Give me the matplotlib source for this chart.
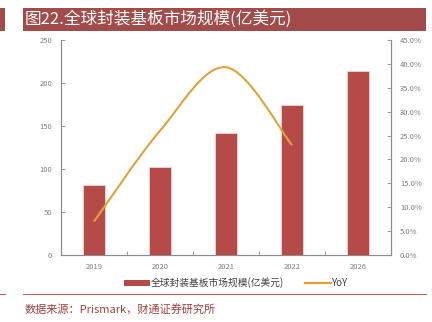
import matplotlib
matplotlib.use("Agg")
import matplotlib.pyplot as plt
from matplotlib.path import Path
from matplotlib.patches import PathPatch, Rectangle
from matplotlib.lines import Line2D
from matplotlib.ticker import FuncFormatter, FixedLocator
import numpy as np

plt.rcParams['font.family'] = ['Noto Sans CJK SC', 'DejaVu Sans']

years = ["2019", "2020", "2021", "2022", "2026"]
market_size = [81, 102, 142, 175, 214]
yoy_years = ["2019", "2020", "2021", "2022"]
yoy = [7.0, 26.0, 39.3, 23.0]

title = "图22.全球封装基板市场规模(亿美元)"
bar_label = "全球封装基板市场规模(亿美元)"
line_label = "YoY"
source = "数据来源：Prismark，财通证券研究所"

bar_color = "#B54A48"
line_color = "#E3A236"
red_dark = "#A34B4A"
axis_gray = "#8C8C8C"
tick_gray = "#7F7F7F"

fig = plt.figure(figsize=(4.32, 3.22), dpi=100)
ax = fig.add_axes([61/432, 1-255/322, 330/432, 215/322])
ax2 = ax.twinx()

x = np.arange(len(years))
ax.bar(x, market_size, width=0.32, color=bar_color, edgecolor="#F2D6D5", linewidth=0.6, zorder=2)
ax.set_xlim(-0.5, len(years) - 0.5)
ax.set_ylim(0, 250)
ax.set_yticks(np.arange(0, 251, 50))
ax.set_xticks(x)
ax.set_xticklabels(years)
ax.xaxis.set_minor_locator(FixedLocator(np.arange(0.5, len(years) - 0.5, 1)))
ax.tick_params(axis='x', which='major', length=0, labelsize=5.5, labelcolor=tick_gray, pad=6)
ax.tick_params(axis='x', which='minor', length=3, direction='in', color=axis_gray, width=0.6)
ax.tick_params(axis='y', length=3, direction='in', labelsize=5.5, labelcolor=tick_gray, color=axis_gray, width=0.6, pad=6.5)

ax2.set_ylim(0, 45)
ax2.set_yticks(np.arange(0, 46, 5))
ax2.yaxis.set_major_formatter(FuncFormatter(lambda v, p: f"{v:.1f}%"))
ax2.tick_params(axis='y', length=3, direction='in', labelsize=5.5, labelcolor=tick_gray, color=axis_gray, width=0.6, pad=6.5)

for a in (ax, ax2):
    a.spines['top'].set_visible(False)
    for s in ('left', 'right', 'bottom'):
        a.spines[s].set_color(axis_gray)
        a.spines[s].set_linewidth(0.8)
ax.set_zorder(ax2.get_zorder() + 1)
ax.patch.set_visible(False)

# smoothed YoY line (Excel-style Bezier through the data points), on the right-hand scale
xi = np.array([years.index(y) for y in yoy_years], dtype=float)
yi = np.array(yoy, dtype=float)
pts = np.column_stack([xi, yi])
verts = [tuple(pts[0])]
codes = [Path.MOVETO]
n = len(pts)
for i in range(n - 1):
    p0 = pts[i - 1] if i > 0 else pts[i]
    p1 = pts[i]
    p2 = pts[i + 1]
    p3 = pts[i + 2] if i + 2 < n else pts[i + 1]
    c1 = p1 + (p2 - p0) / 6.0
    c2 = p2 - (p3 - p1) / 6.0
    verts += [tuple(c1), tuple(c2), tuple(p2)]
    codes += [Path.CURVE4] * 3
line_patch = PathPatch(Path(verts, codes), facecolor='none', edgecolor=line_color, linewidth=1.5, zorder=3,
                       transform=ax2.transData)
ax.add_patch(line_patch)

# legend
handles = [Rectangle((0, 0), 1, 1, facecolor=bar_color, edgecolor='none'),
           Line2D([0], [0], color=line_color, linewidth=1.6)]
leg = fig.legend(handles, [bar_label, line_label], loc='center', bbox_to_anchor=(236/432, 1-283/322),
                 ncol=2, frameon=False, fontsize=7, handlelength=2.6, handleheight=0.6,
                 handletextpad=0.1, columnspacing=2.2)
for t in leg.get_texts():
    t.set_color("#404040")

# title bar
fig.patches.append(Rectangle((23/432, 1-31/322), (426-23)/432, 23/322, transform=fig.transFigure,
                             facecolor=red_dark, edgecolor='none'))
fig.patches.append(Rectangle((0, 1-31/322), 5/432, 23/322, transform=fig.transFigure,
                             facecolor=red_dark, edgecolor='none'))
fig.text(25/432, 1-19.5/322, title, color="white", fontsize=12, va='center', ha='left')

# bottom rule and source
fig.add_artist(Line2D([23/432, 426/432], [1-293.5/322, 1-293.5/322], color="#C0605E", linewidth=0.8))
fig.add_artist(Line2D([0, 5/432], [1-293.5/322, 1-293.5/322], color="#C0605E", linewidth=0.8))
fig.text(25/432, 1-309/322, source, color="#A0403C", fontsize=8, va='center', ha='left')

fig.savefig("out.png", dpi=100)
